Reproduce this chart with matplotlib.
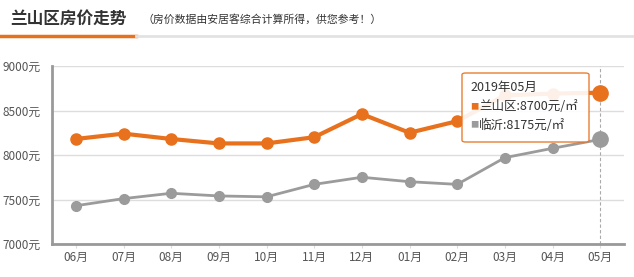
import matplotlib
matplotlib.use('Agg')
import matplotlib.pyplot as plt
from matplotlib.patches import FancyBboxPatch
from matplotlib.lines import Line2D

plt.rcParams['font.family'] = ['Noto Sans CJK SC', 'DejaVu Sans']

months = ['06月', '07月', '08月', '09月', '10月', '11月', '12月',
          '01月', '02月', '03月', '04月', '05月']
lanshan = [8180, 8240, 8180, 8130, 8130, 8200, 8460, 8250, 8380, 8670, 8690, 8700]
linyi = [7430, 7510, 7570, 7540, 7530, 7670, 7750, 7700, 7670, 7970, 8075, 8175]
yticks = [7000, 7500, 8000, 8500, 9000]

orange = '#e8711d'
gray = '#9b9b9b'

fig = plt.figure(figsize=(6.34, 2.77), dpi=100)

# 标题
fig.text(10/634, 1 - 19/277, '兰山区房价走势', fontsize=12, color='#333333',
         va='center', fontweight='bold')
fig.text(143/634, 1 - 19/277, '（房价数据由安居客综合计算所得，供您参考！）',
         fontsize=7.8, color='#333333', va='center')
fig.add_artist(Line2D([0, 136/634], [1 - 36/277] * 2, color=orange, lw=2.5))
fig.add_artist(Line2D([136/634, 1], [1 - 36/277] * 2, color='#e2e2e2', lw=2))

ax = fig.add_axes([52/634, 33/277, 572/634, 178/277])
x = list(range(len(months)))
ax.plot(x, linyi, color=gray, lw=2, marker='o', ms=7, zorder=3)
ax.plot(x, lanshan, color=orange, lw=3, marker='o', ms=8, zorder=4)
ax.plot(x[-1], linyi[-1], 'o', color=gray, ms=11, zorder=5)
ax.plot(x[-1], lanshan[-1], 'o', color=orange, ms=11, zorder=5)

ax.set_xlim(-0.5, len(months) - 0.5)
ax.set_ylim(7000, 9000)
ax.set_yticks(yticks)
ax.set_yticklabels([f'{v}元' for v in yticks])
ax.set_xticks(x)
ax.set_xticklabels(months)
ax.tick_params(axis='y', length=0, labelsize=8.5, labelcolor='#555555', pad=8)
ax.tick_params(axis='x', length=3, width=0.8, color='#dddddd', labelsize=8.5,
               labelcolor='#555555', pad=2)
ax.grid(axis='y', color='#dddddd', lw=1)
ax.set_axisbelow(True)
for s in ['top', 'right']:
    ax.spines[s].set_visible(False)
ax.spines['left'].set_color('#999999')
ax.spines['left'].set_linewidth(2)
ax.spines['bottom'].set_color('#999999')
ax.spines['bottom'].set_linewidth(2)

ax.axvline(x[-1], color='#aaaaaa', lw=0.8, ls=(0, (3, 2)), zorder=2)

# 提示框
box = FancyBboxPatch((462/634, 1 - 142/277), 127/634, 69/277,
                     boxstyle='round,pad=0,rounding_size=0.006',
                     transform=fig.transFigure, facecolor='white', alpha=0.9,
                     edgecolor=orange, lw=1, zorder=10)
fig.add_artist(box)
fig.text(470/634, 1 - 87/277, f'2019年{months[-1]}', fontsize=9,
         color='#333333', va='center', zorder=11)
fig.text(470/634, 1 - 107/277, '■', fontsize=6, color=orange, va='center', zorder=11)
fig.text(479/634, 1 - 107/277, f'兰山区:{lanshan[-1]}元/㎡', fontsize=9,
         color='#333333', va='center', zorder=11)
fig.text(470/634, 1 - 125/277, '■', fontsize=6, color=gray, va='center', zorder=11)
fig.text(479/634, 1 - 125/277, f'临沂:{linyi[-1]}元/㎡', fontsize=9,
         color='#333333', va='center', zorder=11)

fig.savefig('out.png', dpi=100)
